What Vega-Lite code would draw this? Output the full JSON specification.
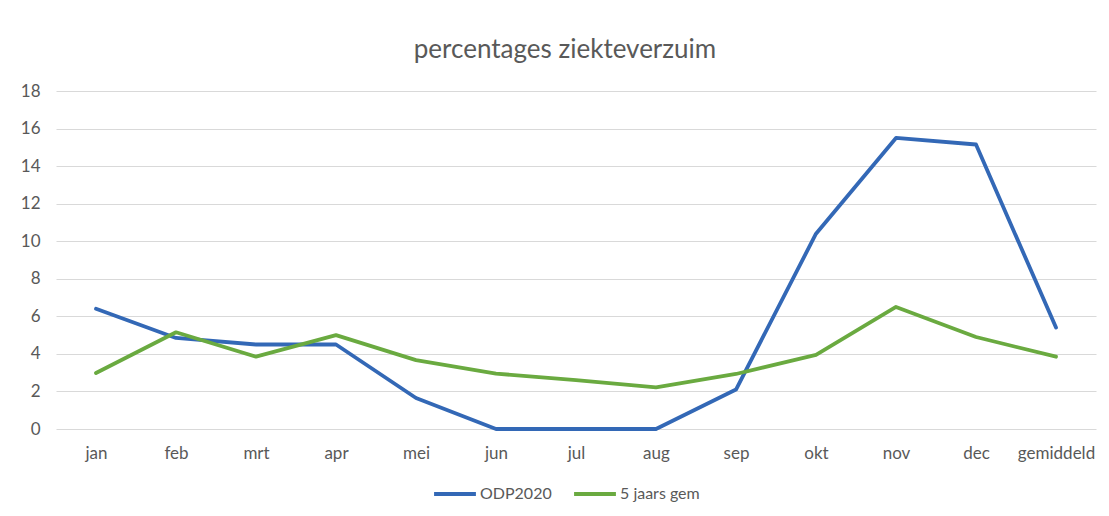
{
  "$schema": "https://vega.github.io/schema/vega-lite/v6.json",
  "width": 1040,
  "height": 338,
  "autosize": {"type": "none"},
  "padding": {"left": 56, "top": 91, "right": 13, "bottom": 87},
  "background": "white",
  "title": {
    "text": "percentages ziekteverzuim",
    "fontSize": 26,
    "font": "Lato",
    "fontWeight": "normal",
    "color": "#595959",
    "anchor": "middle",
    "offset": 19,
    "dx": -11
  },
  "data": {
    "values": [
      {"maand": "jan", "serie": "ODP2020", "pct": 6.4},
      {"maand": "feb", "serie": "ODP2020", "pct": 4.85},
      {"maand": "mrt", "serie": "ODP2020", "pct": 4.5},
      {"maand": "apr", "serie": "ODP2020", "pct": 4.5},
      {"maand": "mei", "serie": "ODP2020", "pct": 1.65},
      {"maand": "jun", "serie": "ODP2020", "pct": 0},
      {"maand": "jul", "serie": "ODP2020", "pct": 0},
      {"maand": "aug", "serie": "ODP2020", "pct": 0},
      {"maand": "sep", "serie": "ODP2020", "pct": 2.1},
      {"maand": "okt", "serie": "ODP2020", "pct": 10.4},
      {"maand": "nov", "serie": "ODP2020", "pct": 15.5},
      {"maand": "dec", "serie": "ODP2020", "pct": 15.15},
      {"maand": "gemiddeld", "serie": "ODP2020", "pct": 5.4},
      {"maand": "jan", "serie": "5 jaars gem", "pct": 2.98},
      {"maand": "feb", "serie": "5 jaars gem", "pct": 5.15},
      {"maand": "mrt", "serie": "5 jaars gem", "pct": 3.85},
      {"maand": "apr", "serie": "5 jaars gem", "pct": 5.0},
      {"maand": "mei", "serie": "5 jaars gem", "pct": 3.67},
      {"maand": "jun", "serie": "5 jaars gem", "pct": 2.95},
      {"maand": "jul", "serie": "5 jaars gem", "pct": 2.6},
      {"maand": "aug", "serie": "5 jaars gem", "pct": 2.22},
      {"maand": "sep", "serie": "5 jaars gem", "pct": 2.93},
      {"maand": "okt", "serie": "5 jaars gem", "pct": 3.95},
      {"maand": "nov", "serie": "5 jaars gem", "pct": 6.5},
      {"maand": "dec", "serie": "5 jaars gem", "pct": 4.9},
      {"maand": "gemiddeld", "serie": "5 jaars gem", "pct": 3.85}
    ]
  },
  "mark": {"type": "line", "strokeWidth": 3.8, "strokeCap": "round", "strokeJoin": "round"},
  "encoding": {
    "x": {
      "field": "maand",
      "type": "nominal",
      "sort": null,
      "scale": {"type": "point", "padding": 0.5},
      "axis": {
        "title": null,
        "labelAngle": 0,
        "ticks": false,
        "domain": false,
        "grid": false,
        "labelPadding": 16,
        "labelFontSize": 17,
        "labelFont": "Lato",
        "labelColor": "#595959"
      }
    },
    "y": {
      "field": "pct",
      "type": "quantitative",
      "scale": {"domain": [0, 18], "nice": false},
      "axis": {
        "title": null,
        "values": [0, 2, 4, 6, 8, 10, 12, 14, 16, 18],
        "ticks": false,
        "domain": false,
        "gridColor": "#d9d9d9",
        "gridWidth": 1,
        "labelPadding": 16,
        "labelFontSize": 17,
        "labelFont": "Lato",
        "labelColor": "#595959"
      }
    },
    "color": {
      "field": "serie",
      "type": "nominal",
      "sort": ["ODP2020", "5 jaars gem"],
      "scale": {"domain": ["ODP2020", "5 jaars gem"], "range": ["#3368b6", "#6aaa40"]},
      "legend": {
        "orient": "none",
        "legendX": 376,
        "legendY": 380,
        "direction": "horizontal",
        "title": null,
        "symbolType": "stroke",
        "symbolSize": 1750,
        "symbolStrokeWidth": 4,
        "labelFontSize": 16,
        "labelFont": "Lato",
        "labelColor": "#595959",
        "labelOffset": 2,
        "columnPadding": 14
      }
    }
  },
  "config": {"view": {"stroke": null}}
}
